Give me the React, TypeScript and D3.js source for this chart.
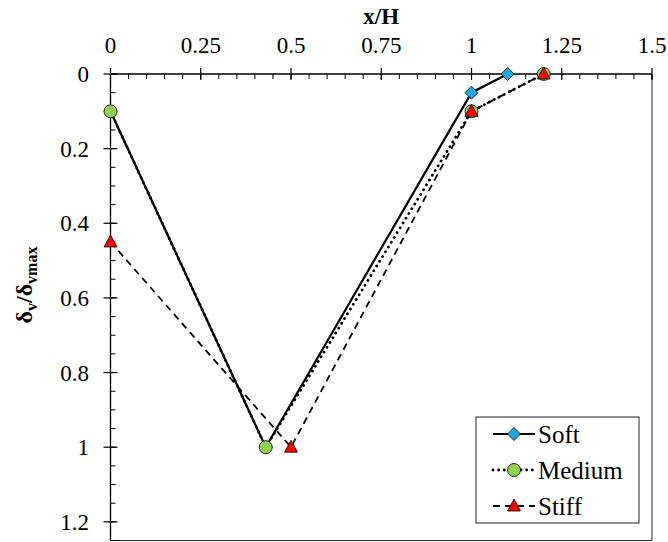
import React from "react";
import * as d3 from "d3";

const seriesNames = ["Soft", "Medium", "Stiff"];
const softX = [0, 0.43, 1.0, 1.1];
const softY = [0.1, 1.0, 0.05, 0];
const mediumX = [0, 0.43, 1.0, 1.2];
const mediumY = [0.1, 1.0, 0.1, 0];
const stiffX = [0, 0.5, 1.0, 1.2];
const stiffY = [0.45, 1.0, 0.1, 0];
const xTicks = [0, 0.25, 0.5, 0.75, 1, 1.25, 1.5];
const yTicks = [0, 0.2, 0.4, 0.6, 0.8, 1, 1.2];

const W = 668, H = 542;
const L = 110.5, R = 652, T = 74, B = 540.5;
const FONT = "'Liberation Serif', 'Times New Roman', serif";

export default function App() {
  const x = d3.scaleLinear().domain([0, 1.5]).range([L, R]);
  const y = d3.scaleLinear().domain([0, 1.25]).range([T, B]);
  const line = d3.line<[number, number]>().x(d => x(d[0])).y(d => y(d[1]));

  const xMinor = d3.range(0, 1.5001, 0.05);
  const yMinor = d3.range(0, 1.2501, 0.05);

  const soft = softX.map((v, i) => [v, softY[i]] as [number, number]);
  const medium = mediumX.map((v, i) => [v, mediumY[i]] as [number, number]);
  const stiff = stiffX.map((v, i) => [v, stiffY[i]] as [number, number]);

  const diamond = (cx: number, cy: number, k: string) => (
    <path key={k} d={`M${cx},${cy - 6.5}L${cx + 6.5},${cy}L${cx},${cy + 6.5}L${cx - 6.5},${cy}Z`} fill="#1ea7e1" stroke="#000" strokeWidth={0.8} />
  );
  const circle = (cx: number, cy: number, k: string) => (
    <circle key={k} cx={cx} cy={cy} r={6.5} fill="#92d050" stroke="#000" strokeWidth={0.8} />
  );
  const tri = (cx: number, cy: number, k: string) => (
    <path key={k} d={`M${cx},${cy - 7}L${cx + 6.5},${cy + 5}L${cx - 6.5},${cy + 5}Z`} fill="#ff0000" stroke="#000" strokeWidth={0.8} />
  );

  const legX = 476, legY = 417, legW = 163, legH = 106;
  const rows = [434, 470, 506];
  const ts = { fontFamily: FONT };

  return (
    <svg width={W} height={H} style={{ position: "absolute", left: 0, top: 0, background: "#fff" }}>
      <rect x={0} y={0} width={W} height={H} fill="#fff" />
      {/* frame */}
      <line x1={R} y1={T} x2={R} y2={B} stroke="#222" strokeWidth={1} />
      <line x1={L} y1={B} x2={R} y2={B} stroke="#222" strokeWidth={1} />
      {/* x axis top */}
      <line x1={L} y1={T} x2={R} y2={T} stroke="#000" strokeWidth={1.3} />
      {xMinor.map((v, i) => (
        <line key={"xm" + i} x1={x(v)} x2={x(v)} y1={T} y2={T + 5} stroke="#000" strokeWidth={1} />
      ))}
      {xTicks.map((v, i) => (
        <g key={"xt" + i}>
          <line x1={x(v)} x2={x(v)} y1={T - 6} y2={T + 6} stroke="#000" strokeWidth={1.2} />
          <text x={x(v)} y={53} textAnchor="middle" fontSize={23} style={ts}>{String(v)}</text>
        </g>
      ))}
      {/* y axis */}
      <line x1={L} y1={T} x2={L} y2={B} stroke="#000" strokeWidth={1.3} />
      {yMinor.map((v, i) => (
        <line key={"ym" + i} x1={L} x2={L + 5} y1={y(v)} y2={y(v)} stroke="#000" strokeWidth={1} />
      ))}
      {yTicks.map((v, i) => (
        <g key={"yt" + i}>
          <line x1={L - 7} x2={L + 7} y1={y(v)} y2={y(v)} stroke="#000" strokeWidth={1.2} />
          <text x={89} y={y(v)} dy="0.35em" textAnchor="end" fontSize={23} style={ts}>{String(v)}</text>
        </g>
      ))}
      {/* titles */}
      <text x={(L + R) / 2} y={24} textAnchor="middle" fontSize={23} fontWeight="bold" style={ts}>x/H</text>
      <text transform={`translate(32,285) rotate(-90)`} textAnchor="middle" fontSize={24} fontWeight="bold" style={ts}>
        δ<tspan fontSize={16} dy={5}>v</tspan><tspan dy={-5}>/δ</tspan><tspan fontSize={16} dy={5}>vmax</tspan>
      </text>
      {/* lines */}
      <path d={line(soft) || ""} fill="none" stroke="#000" strokeWidth={2.2} />
      <path d={line(medium) || ""} fill="none" stroke="#000" strokeWidth={2.8} strokeDasharray="0.1 5.5" strokeLinecap="round" />
      <path d={line(stiff) || ""} fill="none" stroke="#000" strokeWidth={1.8} strokeDasharray="7 5" />
      {soft.map((p, i) => diamond(x(p[0]), y(p[1]), "s" + i))}
      {medium.map((p, i) => circle(x(p[0]), y(p[1]), "m" + i))}
      {stiff.map((p, i) => tri(x(p[0]), y(p[1]), "t" + i))}
      {/* legend */}
      <rect x={legX} y={legY} width={legW} height={legH} fill="#fff" stroke="#222" strokeWidth={1} />
      <line x1={493} x2={535} y1={rows[0]} y2={rows[0]} stroke="#000" strokeWidth={2.2} />
      {diamond(514, rows[0], "ld")}
      <line x1={493} x2={535} y1={rows[1]} y2={rows[1]} stroke="#000" strokeWidth={2.8} strokeDasharray="0.1 5.5" strokeLinecap="round" />
      {circle(514, rows[1], "lc")}
      <line x1={493} x2={535} y1={rows[2]} y2={rows[2]} stroke="#000" strokeWidth={1.8} strokeDasharray="7 5" />
      {tri(514, rows[2], "lt")}
      {seriesNames.map((n, i) => (
        <text key={n} x={538} y={rows[i]} dy="0.35em" fontSize={25} style={ts}>{n}</text>
      ))}
    </svg>
  );
}
